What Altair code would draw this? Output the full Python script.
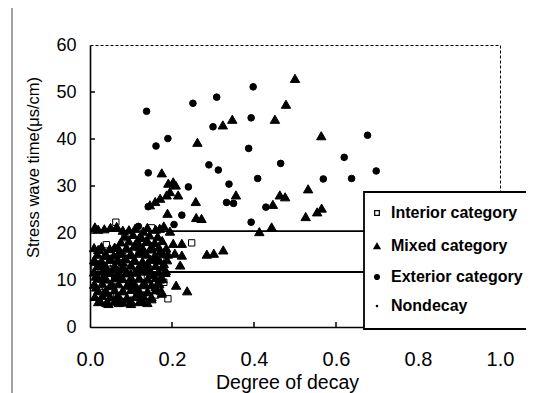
import altair as alt
import pandas as pd

# ---------------- data ----------------
categories = ["Interior category", "Mixed category", "Exterior category", "Nondecay"]

interior_x = [0.063, 0.150, 0.248, 0.190, 0.012, 0.020, 0.060, 0.080, 0.090, 0.100,
              0.110, 0.120, 0.140, 0.150, 0.160, 0.050, 0.070, 0.130, 0.170, 0.030,
              0.100, 0.180, 0.040, 0.085]
interior_y = [22.3, 21.1, 17.9, 6.0, 12.5, 9.0, 10.0, 15.0, 12.5, 19.8,
              11.5, 15.5, 10.5, 13.0, 6.8, 6.5, 13.2, 18.0, 12.0, 11.0,
              7.0, 9.5, 17.5, 19.0]

nondecay_x = [0.015, 0.02, 0.03, 0.04, 0.05, 0.06, 0.07, 0.08, 0.09, 0.10,
              0.11, 0.12, 0.13, 0.14, 0.15, 0.16, 0.17, 0.02, 0.05, 0.08,
              0.11, 0.13, 0.015, 0.015, 0.03, 0.06, 0.09, 0.12]
nondecay_y = [10.0, 14.0, 8.0, 12.0, 16.0, 9.0, 11.0, 6.0, 14.5, 12.0,
              16.5, 8.0, 13.0, 11.5, 9.0, 12.5, 15.0, 7.0, 13.0, 10.0,
              6.8, 17.0, 8.0, 13.0, 16.0, 14.0, 8.5, 11.0]

mixed_x = [0.500, 0.478, 0.451, 0.347, 0.324, 0.262, 0.564, 0.175, 0.532, 0.191,
           0.203, 0.209, 0.195, 0.215, 0.187, 0.171, 0.159, 0.146, 0.356, 0.463,
           0.476, 0.446, 0.526, 0.554, 0.565, 0.413, 0.443, 0.258, 0.189, 0.259,
           0.272, 0.203, 0.224, 0.207, 0.224, 0.220, 0.285, 0.302, 0.325, 0.210,
           0.237,
           0.02, 0.05, 0.08, 0.11, 0.13, 0.16, 0.18, 0.195, 0.12, 0.14,
           0.06, 0.09, 0.11, 0.13, 0.15, 0.17, 0.10, 0.07, 0.02, 0.04,
           0.012, 0.03, 0.05, 0.08, 0.11, 0.14, 0.16, 0.18, 0.12, 0.06,
           0.015, 0.03, 0.045, 0.07, 0.09, 0.12, 0.15, 0.17, 0.10, 0.135,
           0.015, 0.035, 0.055, 0.08, 0.11, 0.14, 0.16, 0.065, 0.09, 0.12,
           0.025, 0.045, 0.07, 0.10, 0.13, 0.15, 0.175, 0.185, 0.19,
           0.012, 0.035, 0.065, 0.095, 0.140, 0.170,
           0.085, 0.105, 0.125, 0.145, 0.165,
           0.075, 0.095, 0.118, 0.138, 0.158, 0.176,
           0.010, 0.028, 0.048, 0.068, 0.088, 0.108, 0.128, 0.148, 0.168, 0.186,
           0.018, 0.038, 0.058, 0.078, 0.098, 0.118, 0.138, 0.158, 0.178,
           0.010, 0.028, 0.048, 0.068, 0.088, 0.108, 0.128, 0.148, 0.170, 0.188,
           0.018, 0.040, 0.060, 0.080, 0.100, 0.120, 0.140, 0.160, 0.178,
           0.010, 0.030, 0.050, 0.070, 0.090, 0.110, 0.130, 0.150, 0.168, 0.184,
           0.020, 0.040, 0.060, 0.080, 0.100, 0.120, 0.140, 0.160, 0.177,
           0.010, 0.030, 0.050, 0.070, 0.090, 0.110, 0.130, 0.150, 0.169,
           0.020, 0.040, 0.060, 0.080, 0.100, 0.120, 0.140, 0.160, 0.174,
           0.012, 0.030, 0.050, 0.070, 0.090, 0.110, 0.130, 0.150,
           0.020, 0.040, 0.060, 0.080, 0.100, 0.120, 0.140]
mixed_y = [52.9, 47.4, 44.2, 44.2, 43.0, 39.3, 40.7, 32.8, 29.4, 30.6,
           30.9, 30.2, 28.8, 28.1, 28.1, 27.4, 26.7, 26.0, 28.1, 28.1,
           27.7, 26.1, 23.5, 24.5, 25.3, 20.3, 21.3, 26.7, 24.2, 23.3,
           23.1, 17.8, 17.8, 15.7, 15.3, 13.2, 15.5, 15.7, 16.4, 8.9,
           7.7,
           20.8, 21.2, 20.6, 21.0, 20.4, 20.8, 21.5, 20.4, 19.0, 18.4,
           17.0, 16.8, 17.6, 16.3, 17.2, 16.0, 15.6, 15.8, 16.5, 15.2,
           14.0, 13.3, 14.5, 13.8, 14.2, 13.6, 14.8, 13.5, 12.6, 12.4,
           11.0, 10.4, 11.6, 10.8, 11.8, 10.5, 11.2, 10.2, 9.6, 9.0,
           8.5, 7.4, 8.8, 7.8, 8.2, 7.5, 8.6, 6.4, 6.0, 6.5,
           5.6, 5.0, 5.2, 5.0, 5.5, 6.0, 7.2, 12.0, 15.5,
           21.3, 20.9, 21.4, 20.7, 21.2, 21.0,
           19.4, 19.7, 19.2, 19.6, 19.3,
           18.1, 18.3, 17.9, 18.2, 18.0, 18.4,
           16.9, 17.1, 16.7, 17.0, 16.8, 17.2, 16.9, 16.6, 17.0, 16.8,
           15.5, 15.7, 15.3, 15.6, 15.4, 15.8, 15.5, 15.3, 15.6,
           14.3, 14.1, 14.4, 14.2, 14.5, 14.3, 14.0, 14.4, 14.2, 14.3,
           13.0, 12.8, 13.1, 12.9, 13.2, 13.0, 12.8, 13.1, 12.9,
           11.7, 11.9, 11.6, 11.8, 11.5, 11.7, 11.9, 11.6, 11.8, 11.6,
           10.4, 10.2, 10.5, 10.3, 10.6, 10.4, 10.2, 10.5, 10.3,
           9.1, 9.3, 9.0, 9.2, 8.9, 9.1, 9.3, 9.0, 9.2,
           7.8, 7.6, 7.9, 7.7, 8.0, 7.8, 7.6, 7.9, 7.7,
           6.5, 6.7, 6.4, 6.6, 6.3, 6.5, 6.7, 6.4,
           5.4, 5.2, 5.5, 5.3, 5.6, 5.4, 5.2]

exterior_x = [0.138, 0.161, 0.190, 0.251, 0.309, 0.300, 0.398, 0.393, 0.387, 0.465,
              0.569, 0.142, 0.290, 0.313, 0.339, 0.409, 0.240, 0.677, 0.620, 0.638,
              0.698, 0.333, 0.350, 0.429, 0.393, 0.142, 0.224, 0.205, 0.118]
exterior_y = [45.9, 38.5, 40.1, 47.6, 48.9, 42.6, 51.1, 44.5, 38.0, 34.8,
              31.5, 32.8, 34.5, 33.4, 30.4, 31.6, 29.8, 40.8, 36.1, 31.6,
              33.2, 26.5, 26.3, 25.5, 22.3, 25.6, 23.8, 21.8, 21.4]

threshold_lines = [20.4, 11.7]
x_ticks = [0.0, 0.2, 0.4, 0.6, 0.8, 1.0]
y_ticks = [0, 10, 20, 30, 40, 50, 60]

FONT = "Liberation Sans"
xscale = alt.Scale(domain=[0, 1], nice=False, zero=False)
yscale = alt.Scale(domain=[0, 60], nice=False, zero=False)

xaxis = alt.Axis(values=x_ticks, format=".1f", title="Degree of decay",
                 labelFontSize=20, labelPadding=22, labelFlush=False,
                 labelOverlap=False, titleFontSize=19.5, titleFontWeight="normal",
                 titleX=197, titleY=61, titleAlign="center", titleBaseline="alphabetic",
                 titleAnchor="middle")
yaxis = alt.Axis(values=y_ticks, format="d", title="Stress wave time(μs/cm)",
                 labelFontSize=18, labelPadding=14, labelFlush=False, labelOverlap=False,
                 titleFontSize=16.5, titleFontWeight="normal", titleAngle=270,
                 titleX=-57, titleY=122, titleAlign="center", titleBaseline="middle")

base_x = alt.X("x:Q", scale=xscale, axis=xaxis)
base_y = alt.Y("y:Q", scale=yscale, axis=yaxis)

hlines = alt.Chart(pd.DataFrame({"y": threshold_lines})).mark_rule(
    color="black", strokeWidth=1.8).encode(
    y=base_y,
    x=alt.X(datum=0, scale=xscale, axis=xaxis),
    x2=alt.X2(datum=1),
)

xticks = alt.Chart(pd.DataFrame({"x": x_ticks[1:-1]})).mark_rule(
    color="black", strokeWidth=1.5).encode(x=base_x, y=alt.value(282), y2=alt.value(277))
yticks = alt.Chart(pd.DataFrame({"y": y_ticks[1:-1]})).mark_rule(
    color="black", strokeWidth=1.5).encode(y=base_y, x=alt.value(0), x2=alt.value(5))

border = alt.Chart(pd.DataFrame({"d": [0]})).mark_rule(color="#444", strokeWidth=1).encode(
    x=alt.value(-78), y=alt.value(-37), y2=alt.value(348)
)

# marker style per category (shape, size, fill)
styles = {
    categories[0]: ("square", 40, "white"),
    categories[1]: ("triangle-up", 88, "black"),
    categories[2]: ("circle", 44, "black"),
    categories[3]: ("circle", 3, "black"),
}
series = {
    categories[0]: (interior_x, interior_y),
    categories[1]: (mixed_x, mixed_y),
    categories[2]: (exterior_x, exterior_y),
    categories[3]: (nondecay_x, nondecay_y),
}

layers = [hlines, xticks, yticks, border]
for cat in [categories[0], categories[3], categories[1], categories[2]]:
    xs, ys = series[cat]
    shp, sz, fl = styles[cat]
    df = pd.DataFrame({"x": xs, "y": ys, "cat": cat})
    layers.append(
        alt.Chart(df).mark_point(shape=shp, size=sz, fill=fl, stroke="black",
                                 strokeWidth=1, opacity=1, fillOpacity=1)
        .encode(x=base_x, y=base_y)
    )

# ---- legend box drawn over the plot ----
legend_box = alt.Chart(pd.DataFrame({"d": [0]})).mark_rect(
    fill="white", stroke="black", strokeWidth=1.8).encode(
    x=alt.value(274), x2=alt.value(520), y=alt.value(147), y2=alt.value(284))
layers.append(legend_box)

row_y = [168, 201, 232, 261]
legend_sym = {
    categories[0]: ("square", 22, "white"),
    categories[1]: ("triangle-up", 38, "black"),
    categories[2]: ("circle", 24, "black"),
    categories[3]: ("circle", 2, "black"),
}
for cat, ry in zip(categories, row_y):
    shp, sz, fl = legend_sym[cat]
    ldf = pd.DataFrame({"label": [cat]})
    layers.append(
        alt.Chart(ldf).mark_point(shape=shp, size=sz, fill=fl, stroke="black",
                                  strokeWidth=1.2, opacity=1, fillOpacity=1)
        .encode(x=alt.value(287), y=alt.value(ry))
    )
    layers.append(
        alt.Chart(ldf).mark_text(align="left", baseline="middle", font=FONT,
                                 fontSize=16, fontWeight="bold", color="black")
        .encode(text="label:N", x=alt.value(301), y=alt.value(ry))
    )

chart = alt.layer(*layers).properties(
    width=410, height=282,
    autosize=alt.AutoSizeParams(type="none"),
    padding={"left": 82, "top": 37, "right": 26, "bottom": 66},
    background="white",
).configure_view(
    stroke="black", strokeDash=[3, 2], strokeWidth=1
).configure_axis(
    domainColor="black", domainWidth=1.6, ticks=False, grid=False,
    labelColor="black", titleColor="black", labelFont=FONT, titleFont=FONT,
)

chart.save("out.html", embed_options={"renderer": "svg", "actions": False})
